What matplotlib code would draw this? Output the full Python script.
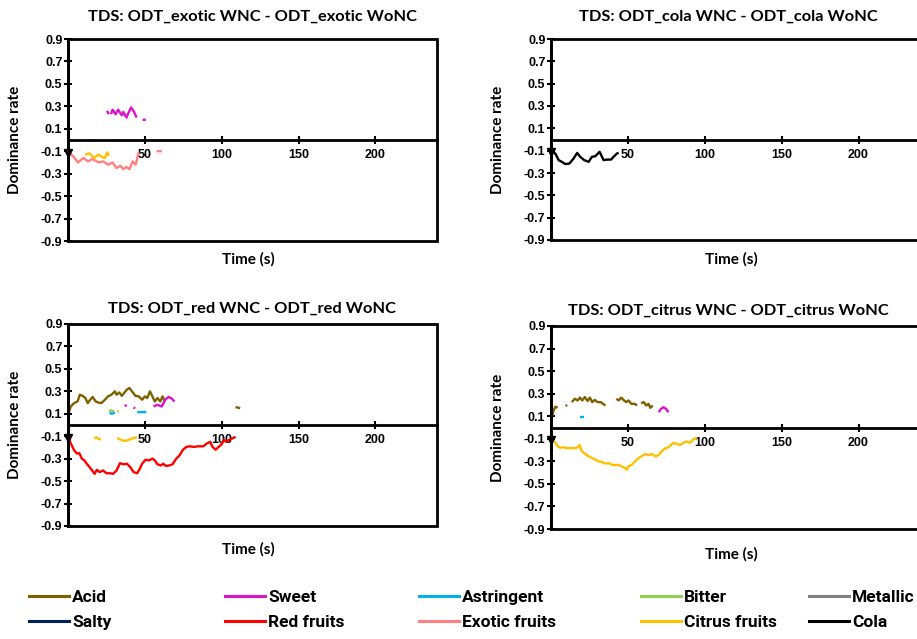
import numpy as np
import matplotlib
matplotlib.use("Agg")
import matplotlib.pyplot as plt
from matplotlib.lines import Line2D

nan = np.nan

# attribute colours
colors = {"Acid": "#7F6000", "Sweet": "#DD11CC", "Astringent": "#00B0F0", "Bitter": "#92D050",
          "Metallic": "#808080", "Salty": "#002060", "Red fruits": "#FF0000",
          "Exotic fruits": "#FF8080", "Citrus fruits": "#FFC000", "Cola": "#000000"}

yticks = [-0.9, -0.7, -0.5, -0.3, -0.1, 0.1, 0.3, 0.5, 0.7, 0.9]
xticks = [50, 100, 150, 200]

# start marker seen at t=0 in every panel
start_t = [0]
start_y = [-0.115]

# ---- ODT_exotic
exotic_sweet_t = [25.4, 26.5, nan, 28, 29, 31, 32.6, 35, 36, 38, 39.6, 41, 43, 44.6, nan, 48.5, 50.6]
exotic_sweet_y = [0.26, 0.23, nan, 0.23, 0.27, 0.23, 0.27, 0.22, 0.25, 0.20, 0.25, 0.29, 0.25, 0.20, nan, 0.18, 0.18]
exotic_exotic_t = [0, 3, 6.5, 10, 13, 16, 20, 23, 26, 29, 31.5, 34, 36, 38, 40, 42, 44, 46, nan, 57.6, 61]
exotic_exotic_y = [-0.11, -0.14, -0.2, -0.16, -0.19, -0.17, -0.2, -0.19, -0.22, -0.2, -0.25, -0.23,
                   -0.26, -0.24, -0.26, -0.19, -0.22, -0.11, nan, -0.1, -0.1]
exotic_citrus_t = [11, 14, 17, 19.6, 22, 24, 25.4, 26.7]
exotic_citrus_y = [-0.13, -0.12, -0.16, -0.13, -0.15, -0.16, -0.11, -0.14]

# ---- ODT_cola
cola_cola_t = [0, 2.8, 5, 7, 9.3, 12, 14.7, 17, 19, 21.6, 24.5, 26.6, 28.8, 31.6, 34.2, 36.4, 39, 40.7, 42.9, 44]
cola_cola_y = [-0.11, -0.125, -0.185, -0.2, -0.22, -0.215, -0.17, -0.12, -0.155, -0.185, -0.2, -0.155,
               -0.15, -0.11, -0.185, -0.18, -0.18, -0.155, -0.125, -0.12]

# ---- ODT_red
red_acid_t = [0, 1.8, 4, 6.2, 7.7, 9.5, 11.3, 12.8, 14.4, 16, 18, 19.7, 21.7, 24, 26, 28.3, 30.5, 31.6,
              33.4, 35, 36.5, 38.3, 40, 41.6, 43.8, 46, 48.2, 50, 51.5, 53.3, 54.9, 56.4, 58.2, 60, 61.5, 63,
              nan, 109, 112]
red_acid_y = [0.09, 0.165, 0.195, 0.21, 0.27, 0.26, 0.24, 0.195, 0.225, 0.25, 0.21, 0.2, 0.195, 0.225,
              0.255, 0.27, 0.3, 0.27, 0.29, 0.26, 0.285, 0.315, 0.33, 0.3, 0.26, 0.255, 0.225, 0.255, 0.24,
              0.3, 0.255, 0.21, 0.24, 0.21, 0.255, 0.21, nan, 0.16, 0.15]
red_sweet_t = [37, 38, nan, 42.6, 43.8, nan, 55.6, 58, 61, 63.2, 65.4, 67.5, 69.3]
red_sweet_y = [0.18, 0.165, nan, 0.155, 0.15, nan, 0.165, 0.18, 0.165, 0.225, 0.25, 0.235, 0.21]
red_astr_t = [27, 28.5, 30.5, nan, 45, 48, 51]
red_astr_y = [0.11, 0.1, 0.11, nan, 0.115, 0.115, 0.115]
red_bitter_t = [26.5, 28, 30, nan, 32, 33]
red_bitter_y = [0.125, 0.13, 0.12, nan, 0.12, 0.125]
red_citrus_t = [17, 18.5, 20, 21.5, nan, 32, 34, 36, 38, 40, 42, 44, 45]
red_citrus_y = [-0.12, -0.11, -0.125, -0.13, nan, -0.115, -0.13, -0.14, -0.14, -0.13, -0.12, -0.11, -0.11]
red_red_t = [0, 1.8, 4, 5.8, 7.3, 9, 10.6, 12.2, 14, 15.7, 17.3, 18.8, 20.6, 22.8, 25, 27.2, 29.4, 31.6,
             33.8, 36, 38.3, 40.5, 42.7, 45, 46.7, 48.2, 50.4, 52.6, 55, 56.4, 58.2, 60.4, 62, 63.7, 66, 68,
             70.4, 72.6, 74.8, 77, 79, 82, 84.7, 88, 90.3, 92.5, 94, 96, 98, 100, 101.3, 102.9, 104.6, 106.9, 109]
red_red_y = [-0.105, -0.165, -0.225, -0.255, -0.25, -0.3, -0.315, -0.345, -0.375, -0.405, -0.435, -0.4,
             -0.42, -0.405, -0.43, -0.43, -0.435, -0.405, -0.34, -0.35, -0.345, -0.375, -0.42, -0.43, -0.39,
             -0.345, -0.31, -0.315, -0.3, -0.315, -0.35, -0.36, -0.345, -0.365, -0.36, -0.35, -0.3, -0.27,
             -0.22, -0.195, -0.19, -0.195, -0.19, -0.19, -0.165, -0.15, -0.195, -0.22, -0.195, -0.17, -0.135,
             -0.15, -0.135, -0.12, -0.105]

# ---- ODT_citrus
citrus_acid_t = [0.6, 1.7, 2.8, 4.3, nan, 9.5, 10.5, nan, 13.5, 15.5, 17.3, 18.8, 20.3, 22, 23.8, 25.3,
                 26.8, 28.5, 30.2, 32.4, 33.8, 35.4, nan, 42.5, 44, 45.7, 47.5, 49, 50.5, 52.2, 54.4, 56,
                 nan, 58.6, 60.3, 61.9, 63.4, 64.6, 66.2]
citrus_acid_y = [0.09, 0.15, 0.185, 0.175, nan, 0.2, 0.19, nan, 0.225, 0.255, 0.24, 0.265, 0.24, 0.27,
                 0.235, 0.265, 0.225, 0.245, 0.225, 0.225, 0.21, 0.195, nan, 0.255, 0.24, 0.265, 0.24, 0.225,
                 0.24, 0.21, 0.21, 0.195, nan, 0.215, 0.225, 0.195, 0.21, 0.175, 0.195]
citrus_astr_t = [19, 21.5]
citrus_astr_y = [0.096, 0.096]
citrus_sweet_t = [70, 71.5, 73.2, 74.8, 76.4]
citrus_sweet_y = [0.135, 0.165, 0.18, 0.165, 0.135]
citrus_citrus_t = [2, 4.3, 6, 8.2, 10.4, 12.5, 14.7, 17, 18.6, 20, 22.3, 24.5, 26.6, 28.8, 31, 33, 35.3,
                   37.4, 39.6, 41.8, 44, 46, 48.3, 49.3, 50.4, 52.6, 54.8, 57, 59, 61.3, 63.4, 65.6, 67.7,
                   70, 72, 74.2, 76.4, 78, 79.7, 81.8, 84, 86, 88.3, 90.5, 92.6, 94.8]
citrus_citrus_y = [-0.12, -0.165, -0.18, -0.175, -0.185, -0.18, -0.185, -0.18, -0.155, -0.21, -0.235,
                   -0.255, -0.27, -0.285, -0.3, -0.305, -0.32, -0.315, -0.33, -0.335, -0.33, -0.345, -0.36,
                   -0.375, -0.345, -0.33, -0.3, -0.27, -0.255, -0.235, -0.245, -0.235, -0.255, -0.245, -0.21,
                   -0.185, -0.175, -0.155, -0.135, -0.145, -0.155, -0.135, -0.125, -0.135, -0.105, -0.09]

panels = [
    ("TDS: ODT_exotic WNC - ODT_exotic WoNC",
     [("Sweet", exotic_sweet_t, exotic_sweet_y),
      ("Exotic fruits", exotic_exotic_t, exotic_exotic_y),
      ("Citrus fruits", exotic_citrus_t, exotic_citrus_y)]),
    ("TDS: ODT_cola WNC - ODT_cola WoNC",
     [("Cola", cola_cola_t, cola_cola_y)]),
    ("TDS: ODT_red WNC - ODT_red WoNC",
     [("Acid", red_acid_t, red_acid_y),
      ("Sweet", red_sweet_t, red_sweet_y),
      ("Bitter", red_bitter_t, red_bitter_y),
      ("Astringent", red_astr_t, red_astr_y),
      ("Citrus fruits", red_citrus_t, red_citrus_y),
      ("Red fruits", red_red_t, red_red_y)]),
    ("TDS: ODT_citrus WNC - ODT_citrus WoNC",
     [("Acid", citrus_acid_t, citrus_acid_y),
      ("Astringent", citrus_astr_t, citrus_astr_y),
      ("Sweet", citrus_sweet_t, citrus_sweet_y),
      ("Citrus fruits", citrus_citrus_t, citrus_citrus_y)]),
]

W, H = 917, 639
# axes boxes in pixels: left, top, bottom
boxes = [(68, 39, 241), (551, 39, 240), (68, 324, 526), (551, 326, 529)]
title_pad = [13, 13, 8, 8]
title_x = [0.5, 0.48, 0.5, 0.48]
xlabel_y = [-11, -12, -16, -18]
ax_w = 369

plt.rcParams['font.family'] = ['Liberation Sans', 'DejaVu Sans']
fig = plt.figure(figsize=(W / 100, H / 100), dpi=100)

for i, (title, series) in enumerate(panels):
    left, top, bottom = boxes[i]
    ax = fig.add_axes([left / W, 1 - bottom / H, ax_w / W, (bottom - top) / H])
    for name, t, y in series:
        ax.plot(t, y, color=colors[name], lw=1.7, solid_capstyle='butt')
    ax.plot(start_t, start_y, marker='v', ms=6, color='black', ls='none', clip_on=False)

    ax.set_xlim(0, 240)
    ax.set_ylim(-0.9, 0.9)
    ax.set_xticks(xticks)
    ax.set_yticks(yticks)
    ax.set_yticklabels([f"{v:.1f}" for v in yticks])

    # box around the plot area, x axis through zero
    ax.patch.set_edgecolor('black')
    ax.patch.set_linewidth(2)
    ax.spines['bottom'].set_position(('data', 0))
    ax.spines['bottom'].set_linewidth(2)
    ax.spines['left'].set_linewidth(2)
    ax.spines['top'].set_visible(False)
    ax.spines['right'].set_visible(False)
    ax.tick_params(direction='inout', length=6, width=1.5, labelsize=9)
    ax.tick_params(axis='y', pad=1)
    for lbl in ax.get_xticklabels() + ax.get_yticklabels():
        lbl.set_fontweight('bold')

    ax.set_title(title, fontsize=11.8, fontweight='bold', family='Lato', pad=title_pad[i], x=title_x[i])
    ax.set_ylabel("Dominance rate", fontsize=11, fontweight='bold', family='Lato')
    ax.yaxis.set_label_coords(-46 / ax_w, 0.5)
    ax.set_xlabel("Time (s)", fontsize=11, fontweight='bold', family='Lato')
    ax.xaxis.set_label_coords(0.49, xlabel_y[i] / (bottom - top))

# legend: five columns of two entries
legend_cols = [("Acid", "Salty"), ("Sweet", "Red fruits"), ("Astringent", "Exotic fruits"),
               ("Bitter", "Citrus fruits"), ("Metallic", "Cola")]
legend_x = [29, 225, 419, 641, 809]
for (top_name, bot_name), lx in zip(legend_cols, legend_x):
    handles = [Line2D([0], [0], color=colors[n], lw=2.2) for n in (top_name, bot_name)]
    fig.legend(handles, [top_name, bot_name], loc='center left',
               bbox_to_anchor=(lx / W, 1 - 610 / H), frameon=False, borderpad=0,
               borderaxespad=0, handlelength=2.3, handletextpad=0.17, labelspacing=0.55,
               prop={'family': 'Roboto', 'size': 12.5, 'weight': 'bold'})

fig.savefig("out.png", dpi=100)
